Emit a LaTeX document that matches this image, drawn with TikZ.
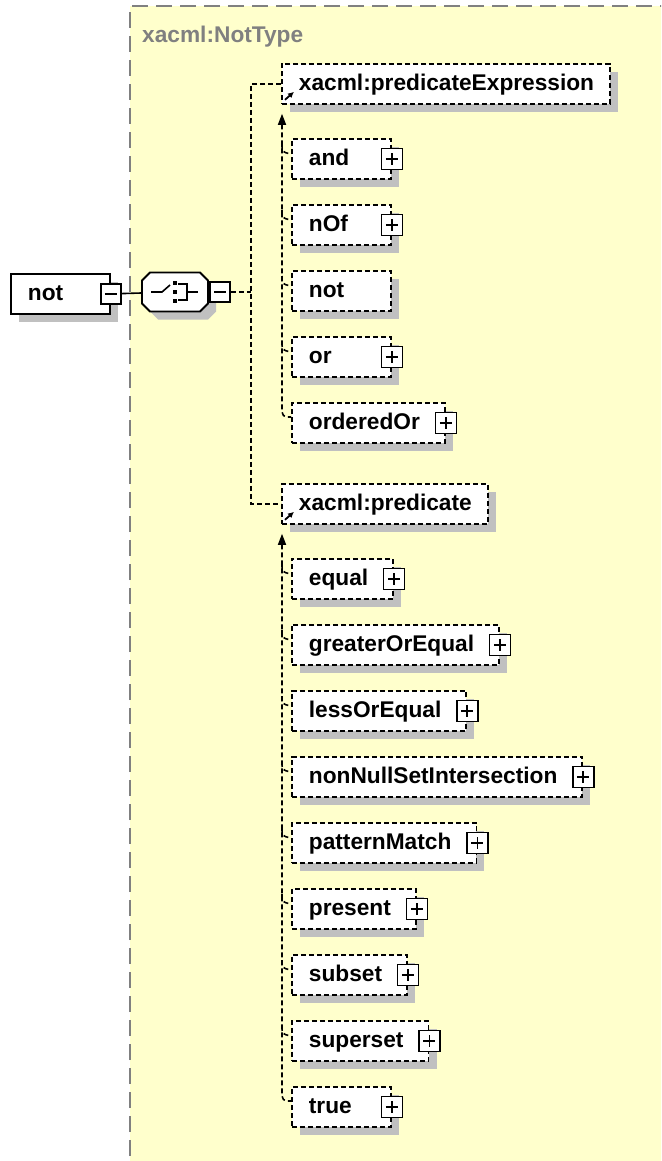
\documentclass[tikz,border=0pt]{standalone}
\usepackage{fontspec}
\setmainfont{Liberation Sans}
\usetikzlibrary{arrows.meta,shadows,calc}

\definecolor{typebg}{RGB}{255,255,204}
\definecolor{typeline}{RGB}{128,128,128}
\definecolor{shadowgray}{RGB}{192,192,192}

% element label, padded to the schema box width
\newlength\elw
\newcommand\eltext[2][25pt]{\settowidth{\elw}{#2}\advance\elw by 17pt\relax\advance\elw by #1\relax
  \ifdim\elw<99pt \elw=99pt\fi\makebox[\elw][l]{\hspace*{17pt}#2}}

\tikzset{
  elfont/.style={font=\fontsize{22.7}{26}\selectfont\bfseries},
  shadowed/.style={drop shadow={shadow xshift=8pt, shadow yshift=-8pt, fill=shadowgray, opacity=1}},
  elem/.style={elfont, draw=black, line width=1.8pt, fill=white, shadowed, inner xsep=0pt, inner ysep=0pt,
    minimum height=40pt, text height=17pt, text depth=4pt, anchor=north west},
  optelem/.style={elem, dash pattern=on 5pt off 3pt},
  minusbox/.style={draw=black, line width=1.6pt, fill=white, minimum size=20pt, inner sep=0pt,
    path picture={\draw[line width=1.6pt] ([xshift=-6pt]path picture bounding box.center) -- ([xshift=6pt]path picture bounding box.center);}},
  plusbox/.style={draw=black, line width=1.6pt, fill=white, minimum size=21pt, inner sep=0pt,
    path picture={\draw[line width=1.6pt] ([xshift=-6pt]path picture bounding box.center) -- ([xshift=6pt]path picture bounding box.center)
      ([yshift=-6pt]path picture bounding box.center) -- ([yshift=6pt]path picture bounding box.center);}},
  conn/.style={draw=black, line width=1.6pt, dash pattern=on 5pt off 3pt},
  link/.style={draw=black, line width=1.6pt},
  subarrow/.style={-{Latex[length=6pt,width=6pt]}, line width=1.8pt},
  headarrow/.style={{Triangle[length=11pt,width=8pt]}-},
}

\begin{document}
\begin{tikzpicture}[x=1pt, y=-1pt]
    \fill[white] (0,0) rectangle (661,1161);
    \useasboundingbox (0,0) rectangle (661,1161);

    % complex type area
    \begin{scope}
        \clip (0,0) rectangle (661,1161);
        \fill[typebg] (130,6) rectangle (680,1180);
        \draw[typeline, line width=2pt, dash pattern=on 16pt off 8pt] (130,1180) -- (130,6) -- (680,6);
    \end{scope}
    \node[elfont, text=typeline, anchor=base west, inner sep=0pt] (typename) at (142,43) {xacml:NotType};

    % root element and sequence
    \node[elem] (root) at (10,273) {\eltext{not}};
    \node[minusbox] (rootminus) at (root.east) {};
    \node[minimum width=66pt, minimum height=39pt, inner sep=0pt] (seq) at (175,292) {};
    \begin{scope}[shift={(seq.center)}]
        \fill[shadowgray, shift={(8,8)}] (-25,-19.5) -- (25,-19.5) -- (33,-11.5) -- (33,11.5) -- (25,19.5)
            -- (-25,19.5) -- (-33,11.5) -- (-33,-11.5) -- cycle;
        \draw[fill=white, line width=1.8pt] (-25,-19.5) -- (25,-19.5) -- (33,-11.5) -- (33,11.5) -- (25,19.5)
            -- (-25,19.5) -- (-33,11.5) -- (-33,-11.5) -- cycle;
        \draw[line width=1.6pt] (-24,0) -- (-13,0) -- (-5,-7);
        \fill (-2,-11) rectangle (2,-7);
        \fill (-2,-2) rectangle (2,2);
        \fill (-2,7) rectangle (2,11);
        \draw[line width=1.6pt] (3,-8) -- (12,-8) -- (12,8) -- (3,8);
        \draw[line width=1.6pt] (12,0) -- (23,0);
    \end{scope}
    \node[minusbox, anchor=west] (seqminus) at ([xshift=1pt]seq.east) {};
    \draw[link] (rootminus) -- (seq);

    % the two substitution group heads
    \node[optelem] (predexpr) at (281,63) {\eltext[16pt]{xacml:predicateExpression}};
    \node[optelem] (pred) at (281,483) {\eltext[16pt]{xacml:predicate}};
    \draw[subarrow] ($(predexpr.south west)+(4,-5)$) -- ++(9,-8);
    \draw[subarrow] ($(pred.south west)+(4,-5)$) -- ++(9,-8);

    \coordinate (fork) at (251,292);
    \draw[conn] (seqminus) -- (fork);
    \draw[conn] (predexpr.west) -| (fork) |- (pred.west);

    % members of predicateExpression
    \foreach \nm/\hp [count=\i] in {and/1, nOf/1, not/0, or/1, orderedOr/1} {
        \node[optelem] (pe\i) at (291,{138+66*(\i-1)}) {\eltext{\nm}};
        \ifnum\hp=1 \node[plusbox] (pe\i-plus) at (pe\i.east) {};\fi
    }
    \draw[conn, headarrow, rounded corners=5pt]
        ($(predexpr.south west)+(1,9)$) |- ($(pe5.north west)+(0,15)$);
    \foreach \i in {1,...,4}
        \draw[conn] ($(pe\i.north west)+(-9,6)$) .. controls +(0,8) .. ($(pe\i.north west)+(0,16)$);

    % members of predicate
    \foreach \nm [count=\i] in {equal, greaterOrEqual, lessOrEqual, nonNullSetIntersection,
                                patternMatch, present, subset, superset, true} {
        \node[optelem] (pr\i) at (291,{558+66*(\i-1)}) {\eltext{\nm}};
        \node[plusbox] (pr\i-plus) at (pr\i.east) {};
    }
    \draw[conn, headarrow, rounded corners=5pt]
        ($(pred.south west)+(1,9)$) |- ($(pr9.north west)+(0,15)$);
    \foreach \i in {1,...,8}
        \draw[conn] ($(pr\i.north west)+(-9,6)$) .. controls +(0,8) .. ($(pr\i.north west)+(0,16)$);
\end{tikzpicture}
\end{document}
